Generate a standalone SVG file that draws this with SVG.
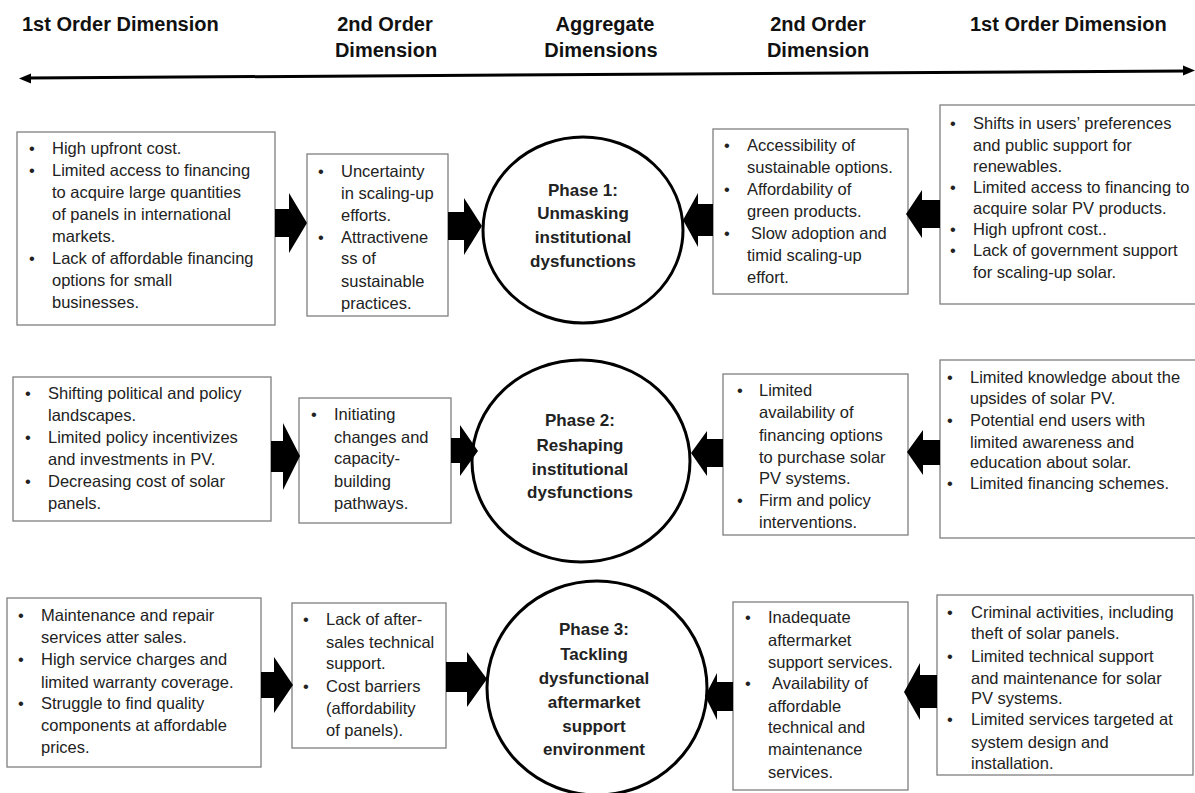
<svg xmlns="http://www.w3.org/2000/svg" width="1195" height="793" viewBox="0 0 1195 793">
<style>
.hd{font-family:"Liberation Sans",Arial,sans-serif;font-weight:bold;font-size:20px;fill:#111}
.bx{fill:#fff;stroke:#7f7f7f;stroke-width:1.3}
.t{font-family:"Liberation Sans",Arial,sans-serif;font-size:16.5px;fill:#222}
.ph{fill:#fff;stroke:#000;stroke-width:3}
.pt{font-family:"Liberation Sans",Arial,sans-serif;font-weight:bold;font-size:17px;fill:#222;text-anchor:middle}
.ba{fill:#000}
</style>
<rect width="1195" height="793" fill="#fff"/>
<g id="header">
<text class="hd" x="22" y="31">1st Order Dimension</text>
<text class="hd" x="385" y="31" text-anchor="middle">2nd Order</text>
<text class="hd" x="386" y="57" text-anchor="middle">Dimension</text>
<text class="hd" x="605" y="31" text-anchor="middle">Aggregate</text>
<text class="hd" x="601" y="57" text-anchor="middle">Dimensions</text>
<text class="hd" x="818" y="31" text-anchor="middle">2nd Order</text>
<text class="hd" x="818" y="57" text-anchor="middle">Dimension</text>
<text class="hd" x="970" y="31">1st Order Dimension</text>
</g>
<g id="axis">
<line x1="28" y1="78" x2="1186" y2="71" stroke="#000" stroke-width="3"/>
<polygon points="19,78.5 31,73.5 31,83.5" fill="#000"/>
<polygon points="1195,70.5 1183,65.5 1183,75.5" fill="#000"/>
</g>

<g id="phase1">
<ellipse class="ph" cx="583" cy="230" rx="100" ry="93"/>
<text class="pt" x="583" y="196">Phase 1:</text>
<text class="pt" x="583" y="219">Unmasking</text>
<text class="pt" x="583" y="243">institutional</text>
<text class="pt" x="583" y="267">dysfunctions</text>
</g>
<g id="phase2">
<ellipse class="ph" cx="581" cy="461" rx="109" ry="101"/>
<text class="pt" x="580" y="426">Phase 2:</text>
<text class="pt" x="580" y="451">Reshaping</text>
<text class="pt" x="580" y="475">institutional</text>
<text class="pt" x="580" y="498">dysfunctions</text>
</g>
<g id="phase3">
<ellipse class="ph" cx="597" cy="688" rx="110" ry="107"/>
<text class="pt" x="594" y="635">Phase 3:</text>
<text class="pt" x="594" y="660">Tackling</text>
<text class="pt" x="594" y="684">dysfunctional</text>
<text class="pt" x="594" y="708">aftermarket</text>
<text class="pt" x="594" y="732">support</text>
<text class="pt" x="594" y="755">environment</text>
</g>

<g id="r1-first-left">
<rect class="bx" x="17" y="132" width="258" height="193"/>
<text class="t">
<tspan x="29" y="154">•</tspan><tspan x="52" y="154">High upfront cost.</tspan>
<tspan x="29" y="176">•</tspan><tspan x="52" y="176">Limited access to financing</tspan>
<tspan x="52" y="198">to acquire large quantities</tspan>
<tspan x="52" y="220">of panels in international</tspan>
<tspan x="52" y="242">markets.</tspan>
<tspan x="29" y="264">•</tspan><tspan x="52" y="264">Lack of affordable financing</tspan>
<tspan x="52" y="286">options for small</tspan>
<tspan x="52" y="308">businesses.</tspan>
</text>
</g>
<g id="r1-second-left">
<rect class="bx" x="307" y="154" width="141" height="162"/>
<text class="t">
<tspan x="318" y="177">•</tspan><tspan x="341" y="177">Uncertainty</tspan>
<tspan x="341" y="199">in scaling-up</tspan>
<tspan x="341" y="221">efforts.</tspan>
<tspan x="318" y="243">•</tspan><tspan x="341" y="243">Attractivene</tspan>
<tspan x="341" y="264">ss of</tspan>
<tspan x="341" y="287">sustainable</tspan>
<tspan x="341" y="309">practices.</tspan>
</text>
</g>
<g id="r1-second-right">
<rect class="bx" x="713" y="129" width="195" height="165"/>
<text class="t">
<tspan x="724" y="151">•</tspan><tspan x="747" y="151">Accessibility of</tspan>
<tspan x="747" y="173">sustainable options.</tspan>
<tspan x="724" y="195">•</tspan><tspan x="747" y="195">Affordability of</tspan>
<tspan x="747" y="217">green products.</tspan>
<tspan x="724" y="239">•</tspan><tspan x="751" y="239">Slow adoption and</tspan>
<tspan x="747" y="261">timid scaling-up</tspan>
<tspan x="747" y="283">effort.</tspan>
</text>
</g>
<g id="r1-first-right">
<rect class="bx" x="940" y="105" width="257" height="199"/>
<text class="t">
<tspan x="950" y="129">•</tspan><tspan x="973" y="129">Shifts in users’ preferences</tspan>
<tspan x="973" y="151">and public support for</tspan>
<tspan x="973" y="172">renewables.</tspan>
<tspan x="950" y="193">•</tspan><tspan x="973" y="193">Limited access to financing to</tspan>
<tspan x="973" y="214">acquire solar PV products.</tspan>
<tspan x="950" y="235">•</tspan><tspan x="973" y="235">High upfront cost..</tspan>
<tspan x="950" y="256">•</tspan><tspan x="973" y="256">Lack of government support</tspan>
<tspan x="973" y="278">for scaling-up solar.</tspan>
</text>
</g>

<g id="r2-first-left">
<rect class="bx" x="13" y="377" width="258" height="144"/>
<text class="t">
<tspan x="25" y="399">•</tspan><tspan x="48" y="399">Shifting political and policy</tspan>
<tspan x="48" y="421">landscapes.</tspan>
<tspan x="25" y="443">•</tspan><tspan x="48" y="443">Limited policy incentivizes</tspan>
<tspan x="48" y="465">and investments in PV.</tspan>
<tspan x="25" y="487">•</tspan><tspan x="48" y="487">Decreasing cost of solar</tspan>
<tspan x="48" y="509">panels.</tspan>
</text>
</g>
<g id="r2-second-left">
<rect class="bx" x="299" y="398" width="152" height="125"/>
<text class="t">
<tspan x="311" y="420">•</tspan><tspan x="334" y="420">Initiating</tspan>
<tspan x="334" y="443">changes and</tspan>
<tspan x="334" y="464">capacity-</tspan>
<tspan x="334" y="487">building</tspan>
<tspan x="334" y="509">pathways.</tspan>
</text>
</g>
<g id="r2-second-right">
<rect class="bx" x="723" y="374" width="185" height="161"/>
<text class="t">
<tspan x="737" y="396">•</tspan><tspan x="759" y="396">Limited</tspan>
<tspan x="759" y="418">availability of</tspan>
<tspan x="759" y="441">financing options</tspan>
<tspan x="759" y="463">to purchase solar</tspan>
<tspan x="759" y="484">PV systems.</tspan>
<tspan x="737" y="506">•</tspan><tspan x="759" y="506">Firm and policy</tspan>
<tspan x="759" y="528">interventions.</tspan>
</text>
</g>
<g id="r2-first-right">
<rect class="bx" x="940" y="360" width="257" height="178"/>
<text class="t">
<tspan x="947" y="383">•</tspan><tspan x="970" y="383">Limited knowledge about the</tspan>
<tspan x="970" y="404">upsides of solar PV.</tspan>
<tspan x="947" y="426">•</tspan><tspan x="970" y="426">Potential end users with</tspan>
<tspan x="970" y="448">limited awareness and</tspan>
<tspan x="970" y="468">education about solar.</tspan>
<tspan x="947" y="489">•</tspan><tspan x="970" y="489">Limited financing schemes.</tspan>
</text>
</g>

<g id="r3-first-left">
<rect class="bx" x="7" y="598" width="254" height="169"/>
<text class="t">
<tspan x="18" y="621">•</tspan><tspan x="41" y="621">Maintenance and repair</tspan>
<tspan x="41" y="643">services atter sales.</tspan>
<tspan x="18" y="665">•</tspan><tspan x="41" y="665">High service charges and</tspan>
<tspan x="41" y="688">limited warranty coverage.</tspan>
<tspan x="18" y="709">•</tspan><tspan x="41" y="709">Struggle to find quality</tspan>
<tspan x="41" y="731">components at affordable</tspan>
<tspan x="41" y="753">prices.</tspan>
</text>
</g>
<g id="r3-second-left">
<rect class="bx" x="292" y="603" width="154" height="145"/>
<text class="t">
<tspan x="303" y="625">•</tspan><tspan x="326" y="625">Lack of after-</tspan>
<tspan x="326" y="648">sales technical</tspan>
<tspan x="326" y="669">support.</tspan>
<tspan x="303" y="692">•</tspan><tspan x="326" y="692">Cost barriers</tspan>
<tspan x="326" y="714">(affordability</tspan>
<tspan x="326" y="736">of panels).</tspan>
</text>
</g>
<g id="r3-second-right">
<rect class="bx" x="733" y="602" width="175" height="188"/>
<text class="t">
<tspan x="745" y="623">•</tspan><tspan x="768" y="623">Inadequate</tspan>
<tspan x="768" y="646">aftermarket</tspan>
<tspan x="768" y="668">support services.</tspan>
<tspan x="745" y="689">•</tspan><tspan x="772" y="689">Availability of</tspan>
<tspan x="768" y="712">affordable</tspan>
<tspan x="768" y="733">technical and</tspan>
<tspan x="768" y="755">maintenance</tspan>
<tspan x="768" y="778">services.</tspan>
</text>
</g>
<g id="r3-first-right">
<rect class="bx" x="937" y="595" width="256" height="180"/>
<text class="t">
<tspan x="947" y="618">•</tspan><tspan x="971" y="618">Criminal activities, including</tspan>
<tspan x="971" y="639">theft of solar panels.</tspan>
<tspan x="947" y="662">•</tspan><tspan x="971" y="662">Limited technical support</tspan>
<tspan x="971" y="684">and maintenance for solar</tspan>
<tspan x="971" y="704">PV systems.</tspan>
<tspan x="947" y="725">•</tspan><tspan x="971" y="725">Limited services targeted at</tspan>
<tspan x="971" y="748">system design and</tspan>
<tspan x="971" y="769">installation.</tspan>
</text>
</g>

<g id="connectors">
<polygon class="ba" points="275,209 289,209 289,193 307,223 289,253 289,237 275,237"/>
<polygon class="ba" points="448,212 464,212 464,198 482,226 464,255 464,240 448,240"/>
<polygon class="ba" points="713,204 698,204 698,193 683,220 698,247 698,236 713,236"/>
<polygon class="ba" points="940,200 922,200 922,190 906,214 922,238 922,228 940,228"/>
<polygon class="ba" points="271,441 283,441 283,423 300,456 283,490 283,472 271,472"/>
<polygon class="ba" points="451,438 460,438 460,425 478,451 460,476 460,463 451,463"/>
<polygon class="ba" points="723,439 707,439 707,431 691,453 707,476 707,467 723,467"/>
<polygon class="ba" points="940,440 923,440 923,430 907,452 923,475 923,465 940,465"/>
<polygon class="ba" points="261,672 274,672 274,657 293,685 274,713 274,698 261,698"/>
<polygon class="ba" points="446,662 467,662 467,652 487,679 467,707 467,692 446,692"/>
<polygon class="ba" points="733,682 717,682 717,673 705,696 717,720 717,711 733,711"/>
<polygon class="ba" points="937,675 920,675 920,663 904,692 920,720 920,708 937,708"/>
</g>
</svg>
